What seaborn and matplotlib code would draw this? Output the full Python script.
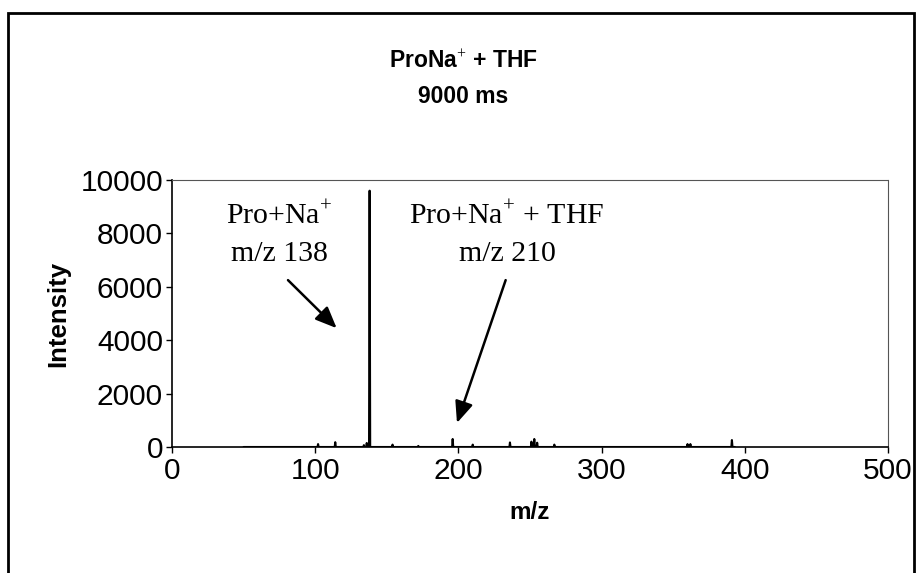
import matplotlib
matplotlib.use("Agg")
import matplotlib.pyplot as plt
import seaborn as sns
import pandas as pd
from matplotlib.patches import Rectangle

# ---- data ----
peak_mz = [102, 114, 134, 136, 138, 154, 172, 196, 210, 236, 251, 253, 255, 267, 360, 362, 391]
peak_int = [110, 180, 70, 150, 9600, 90, 40, 300, 90, 170, 200, 300, 160, 90, 110, 110, 260]
baseline_start = 50
baseline_end = 393
x_ticks = [0, 100, 200, 300, 400, 500]
y_ticks = [0, 2000, 4000, 6000, 8000, 10000]
title_lines = ["ProNa$^{+}$ + THF", "9000 ms"]
x_label = "m/z"
y_label = "Intensity"
label1 = "Pro+Na$^{+}$\nm/z 138"
label2 = "Pro+Na$^{+}$ + THF\nm/z 210"

# build stick spectrum profile from peak list
xs = [baseline_start]
ys = [0]
for m, h in zip(peak_mz, peak_int):
    xs += [m - 0.4, m, m + 0.4]
    ys += [0, h, 0]
xs.append(baseline_end)
ys.append(0)
df = pd.DataFrame({"mz": xs, "intensity": ys})

sns.set_style("white")
plt.rcParams["font.family"] = ["Liberation Sans", "DejaVu Sans"]
plt.rcParams["text.color"] = "black"
plt.rcParams["axes.labelcolor"] = "black"
plt.rcParams["xtick.color"] = "black"
plt.rcParams["ytick.color"] = "black"
plt.rcParams["mathtext.fontset"] = "custom"
plt.rcParams["mathtext.rm"] = "Liberation Sans"
plt.rcParams["mathtext.bf"] = "Liberation Sans:bold"

fig = plt.figure(figsize=(9.22, 5.73), dpi=100)
ax = fig.add_axes([172 / 922, 1 - 447 / 573, (888 - 172) / 922, (447 - 180) / 573])

sns.lineplot(data=df, x="mz", y="intensity", ax=ax, color="black", linewidth=1.5,
             estimator=None, sort=False)

ax.set_xlim(0, 500)
ax.set_ylim(0, 10000)
ax.set_xticks(x_ticks)
ax.set_yticks(y_ticks)
ax.tick_params(axis="both", which="major", direction="out", length=4, width=1,
               color="black", labelsize=21.5, pad=2.5, bottom=True, left=True,
               labelcolor="black")
ax.tick_params(axis="x", pad=3)
ax.set_xticklabels([str(t) for t in x_ticks])
ax.set_yticklabels([str(t) for t in y_ticks])

for s in ["left", "bottom"]:
    ax.spines[s].set_color("black")
    ax.spines[s].set_linewidth(1.2)
for s in ["top", "right"]:
    ax.spines[s].set_color("#555555")
    ax.spines[s].set_linewidth(0.8)
    ax.spines[s].set_linestyle((0, (2, 1)))

ax.set_xlabel(x_label, fontsize=17.5, fontweight="bold", labelpad=12, color="black")
ax.set_ylabel(y_label, fontsize=18.5, fontweight="bold", labelpad=7, color="black")

# title
fig.text(463 / 922, 1 - 61 / 573, title_lines[0], ha="center", va="center",
         fontsize=16.5, fontweight="bold", color="black")
fig.text(463 / 922, 1 - 97 / 573, title_lines[1], ha="center", va="center",
         fontsize=16.5, fontweight="bold", color="black")

# annotations
plt.rcParams["mathtext.rm"] = "Liberation Serif"
serif = {"family": "Liberation Serif", "size": 21.5}
ax.text(75, 7970, label1, ha="center", va="center", fontdict=serif, linespacing=1.55,
        color="black")
ax.text(234, 7970, label2, ha="center", va="center", fontdict=serif, linespacing=1.55,
        color="black")

arrow_style = dict(arrowstyle="-|>,head_length=1.3,head_width=0.55",
                   color="black", lw=1.8, shrinkA=0, shrinkB=0)
ax.annotate("", xy=(115, 4450), xytext=(81, 6250), arrowprops=arrow_style)
ax.annotate("", xy=(199, 900), xytext=(233, 6250), arrowprops=arrow_style)

# outer frame
fig.patches.append(Rectangle((8 / 922, -0.05), (914 - 8) / 922, 1 - 13 / 573 + 0.05,
                             transform=fig.transFigure, fill=False,
                             edgecolor="black", linewidth=2))

fig.savefig("out.png", dpi=100)
